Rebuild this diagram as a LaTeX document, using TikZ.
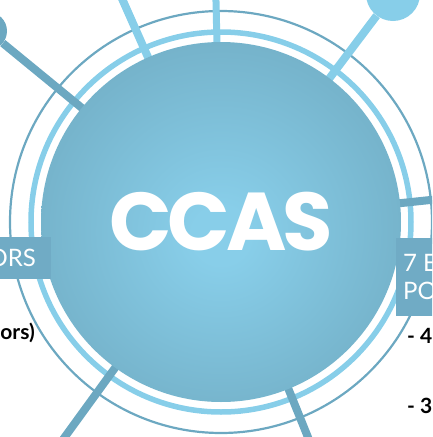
\documentclass[tikz,border=0pt]{standalone}
\usepackage{fontspec}
\setmainfont{Lato}
\newfontfamily\ccasfont{Poppins}[LetterSpace=-5]
\usetikzlibrary{calc}
\definecolor{ccas@light}{RGB}{135,206,233}
\definecolor{ccas@dark}{RGB}{108,168,193}
\definecolor{ccas@box}{RGB}{112,171,197}
\definecolor{ccas@core}{RGB}{136,206,233}
\definecolor{ccas@rim}{RGB}{96,148,168}
\pgfdeclareradialshading{ccas@glow}{\pgfpoint{0bp}{-2bp}}{%
  color(0bp)=(ccas@core); color(4bp)=(ccas@core); color(51bp)=(ccas@rim)}

\begin{document}
\begin{tikzpicture}[x=1pt,y=1pt,
  light spoke/.style={ccas@light, line width=8pt},
  dark spoke/.style={ccas@dark, line width=8pt},
  knob/.style={circle, fill=#1, inner sep=0pt},
  tag/.style={fill=ccas@box, text=white, inner ysep=0pt,
    font=\fontsize{24}{28}\selectfont},
  item/.style={inner sep=0pt, font=\bfseries\fontsize{21}{25}\selectfont},
]
\useasboundingbox (0,0) rectangle (432,-437);
\clip (0,0) rectangle (432,-437);

\coordinate (hub) at (221,-222);

% rings
\draw[ccas@dark, line width=2.2pt] (hub) circle[radius=211];
\draw[ccas@light, line width=5.5pt] (hub) circle[radius=190];

% knobs
\node[knob=ccas@dark, minimum size=38pt] (nw knob) at (-12,-31) {};
\node[knob=ccas@light, minimum size=54pt] (ne knob) at (393,6) {};

% free ends
\coordinate (n end) at ($(hub)+(91.3:250)$);
\coordinate (nnw end) at ($(hub)+(113.9:260)$);
\coordinate (e end) at ($(hub)+(6:240)$);
\coordinate (ssw end) at ($(hub)+(234:270)$);
\coordinate (sse end) at ($(hub)+(292:250)$);

% spokes
\draw[light spoke] (hub) -- (ne knob);
\draw[light spoke, line width=7pt] (hub) -- (n end);
\draw[light spoke] (hub) -- (nnw end);
\draw[dark spoke] (hub) -- (nw knob);
\draw[dark spoke] (hub) -- (e end);
\draw[dark spoke] (hub) -- (ssw end);
\draw[dark spoke] (hub) -- (sse end);

% CCAS
\node[circle, minimum size=360pt, inner sep=0pt, shading=ccas@glow,
  text=white, font=\ccasfont\bfseries\fontsize{82}{82}\selectfont]
  (ccas) at (hub) {CCAS};

% labels
\node[tag, anchor=north east, inner xsep=15pt, minimum height=42pt]
  (contrib) at (51,-237) {ORS};
\node[item, anchor=base east] (contrib note) at (35,-339) {ors)};

\node[tag, anchor=north west, inner xsep=7pt, minimum height=78pt,
  align=left] (points) at (396,-238) {7 E\\PO};
\node[item, anchor=base west] (points a) at (407,-343) {- 4};
\node[item, anchor=base west] (points b) at (407,-413) {- 3};

\end{tikzpicture}
\end{document}
